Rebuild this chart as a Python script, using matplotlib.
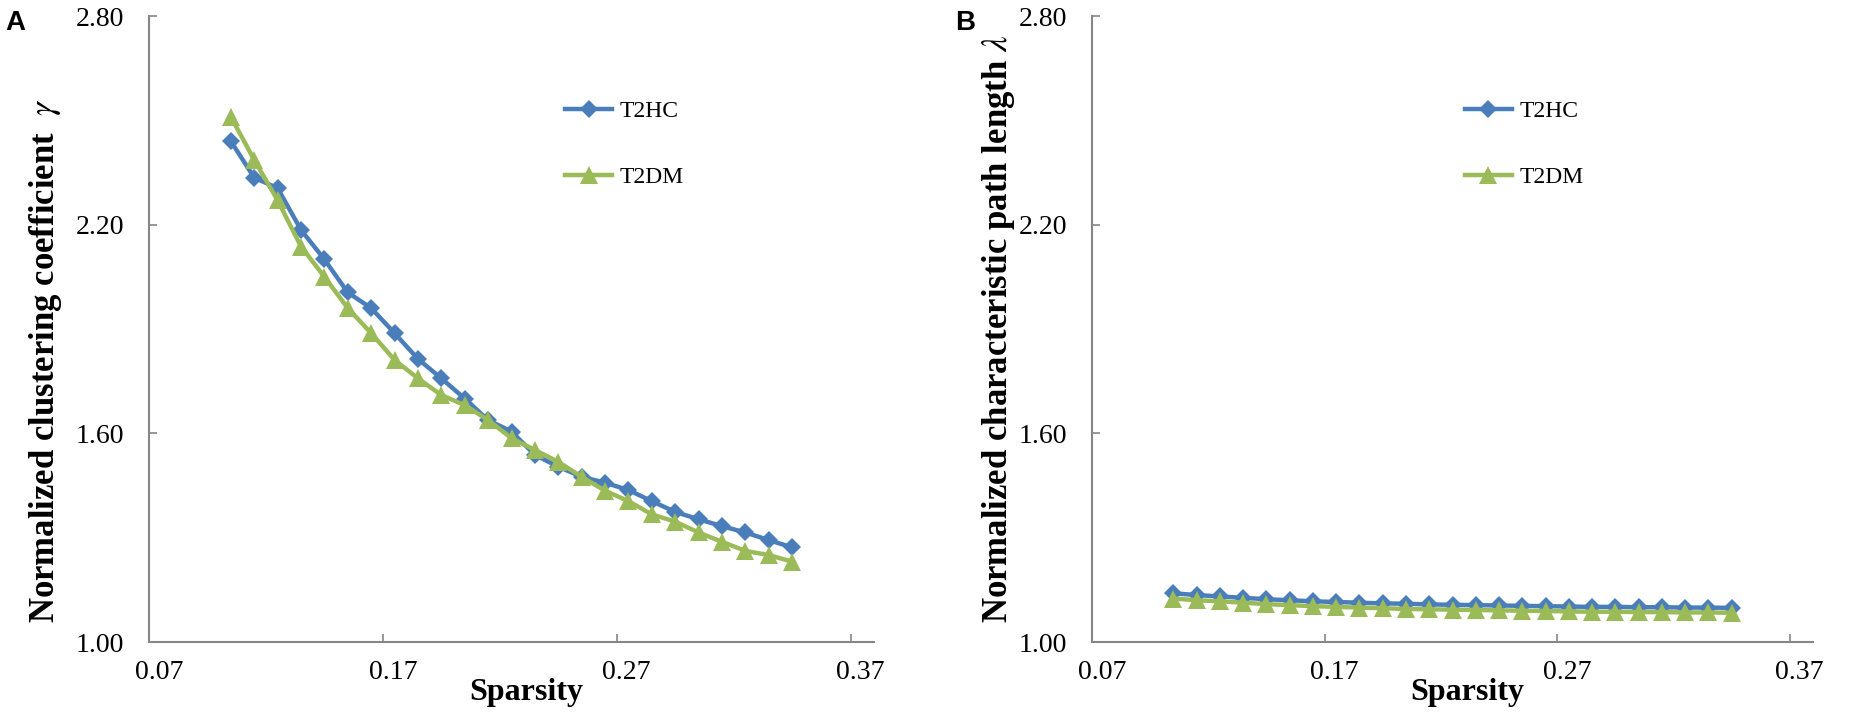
import matplotlib
matplotlib.use("Agg")
import matplotlib.pyplot as plt
import matplotlib.transforms as mtransforms
from matplotlib.ticker import FixedLocator, FormatStrFormatter

# ---- data ----
sparsity = [0.105, 0.115, 0.125, 0.135, 0.145, 0.155, 0.165, 0.175, 0.185, 0.195,
            0.205, 0.215, 0.225, 0.235, 0.245, 0.255, 0.265, 0.275, 0.285, 0.295,
            0.305, 0.315, 0.325, 0.335, 0.345]

gamma_t2hc = [2.440, 2.335, 2.305, 2.185, 2.100, 2.005, 1.960, 1.888, 1.814, 1.758,
              1.700, 1.638, 1.605, 1.538, 1.504, 1.475, 1.458, 1.437, 1.405, 1.374,
              1.353, 1.333, 1.315, 1.293, 1.272]
gamma_t2dm = [2.510, 2.386, 2.270, 2.137, 2.050, 1.960, 1.888, 1.811, 1.758, 1.710,
              1.681, 1.638, 1.586, 1.552, 1.518, 1.475, 1.435, 1.405, 1.367, 1.346,
              1.315, 1.288, 1.262, 1.250, 1.231]

lambda_t2hc = [1.140, 1.135, 1.131, 1.127, 1.123, 1.120, 1.117, 1.115, 1.113, 1.111,
               1.110, 1.108, 1.107, 1.106, 1.105, 1.104, 1.103, 1.102, 1.101, 1.101,
               1.100, 1.100, 1.099, 1.099, 1.098]
lambda_t2dm = [1.125, 1.120, 1.117, 1.113, 1.109, 1.106, 1.103, 1.101, 1.099, 1.097,
               1.095, 1.094, 1.093, 1.092, 1.091, 1.090, 1.089, 1.088, 1.087, 1.087,
               1.086, 1.086, 1.085, 1.085, 1.084]

x_ticks = [0.07, 0.17, 0.27, 0.37]
y_ticks = [1.00, 1.60, 2.20, 2.80]
series_labels = ["T2HC", "T2DM"]
ylabels = [r"Normalized clustering coefficient  $\it{\gamma}$",
           r"Normalized characteristic path length $\it{\lambda}$"]
panel_letters = ["A", "B"]

# ---- style ----
plt.rcParams['mathtext.fontset'] = 'stix'
SERIF = "Liberation Serif"
BLUE = "#4A7EBB"
GREEN = "#9BBB59"
AXC = "#868686"

fig = plt.figure(figsize=(18.5, 7.25), dpi=100)
axA = fig.add_axes([149/1850, 83/725, 725/1850, 626/725])
axB = fig.add_axes([1092/1850, 83/725, 721/1850, 626/725])

panels = [
    (axA, gamma_t2hc, gamma_t2dm, 0.574, -0.117, 0.45),
    (axB, lambda_t2hc, lambda_t2dm, 0.517, -0.104, 0.50),
]

for k, (ax, s1, s2, legx, ylab_x, ylab_y) in enumerate(panels):
    ax.plot(sparsity, s1, color=BLUE, lw=3.2, marker='D', markersize=9,
            markeredgewidth=0, label=series_labels[0], zorder=3)
    ax.plot(sparsity, s2, color=GREEN, lw=3.2, marker='^', markersize=13,
            markeredgewidth=0, label=series_labels[1], zorder=4)
    ax.set_xlim(0.07, 0.38)
    ax.set_ylim(1.00, 2.80)
    ax.xaxis.set_major_locator(FixedLocator(x_ticks))
    ax.yaxis.set_major_locator(FixedLocator(y_ticks))
    ax.xaxis.set_major_formatter(FormatStrFormatter('%.2f'))
    ax.yaxis.set_major_formatter(FormatStrFormatter('%.2f'))
    for sp in ['top', 'right']:
        ax.spines[sp].set_visible(False)
    for sp in ['left', 'bottom']:
        ax.spines[sp].set_color(AXC)
        ax.spines[sp].set_linewidth(1.5)
    ax.tick_params(axis='both', direction='in', length=6, width=1.2, color=AXC,
                   labelsize=20, labelcolor='black')
    ax.tick_params(axis='x', pad=13)
    ax.tick_params(axis='y', pad=18)
    for lab in ax.get_xticklabels() + ax.get_yticklabels():
        lab.set_fontfamily(SERIF)
    off = mtransforms.ScaledTranslation(10/100, 0, fig.dpi_scale_trans)
    for lab in ax.get_xticklabels():
        lab.set_transform(lab.get_transform() + off)
    ax.set_xlabel("Sparsity", fontfamily=SERIF, fontweight='bold', fontsize=23)
    ax.xaxis.set_label_coords(0.52, -0.057)
    ax.set_ylabel(ylabels[k], fontfamily=SERIF, fontweight='bold', fontsize=25)
    ax.yaxis.set_label_coords(ylab_x, ylab_y)
    leg = ax.legend(loc='upper left', bbox_to_anchor=(legx, 0.865), frameon=False,
                    prop={'family': SERIF, 'size': 17}, handlelength=2.0,
                    handletextpad=0.3, labelspacing=1.9, borderpad=0,
                    borderaxespad=0)

fig.text(5/1850, 1 - 30/725, panel_letters[0], fontfamily="Liberation Sans",
         fontweight='bold', fontsize=20)
fig.text(955/1850, 1 - 30/725, panel_letters[1], fontfamily="Liberation Sans",
         fontweight='bold', fontsize=20)

fig.savefig("out.png", dpi=100, facecolor='white')
